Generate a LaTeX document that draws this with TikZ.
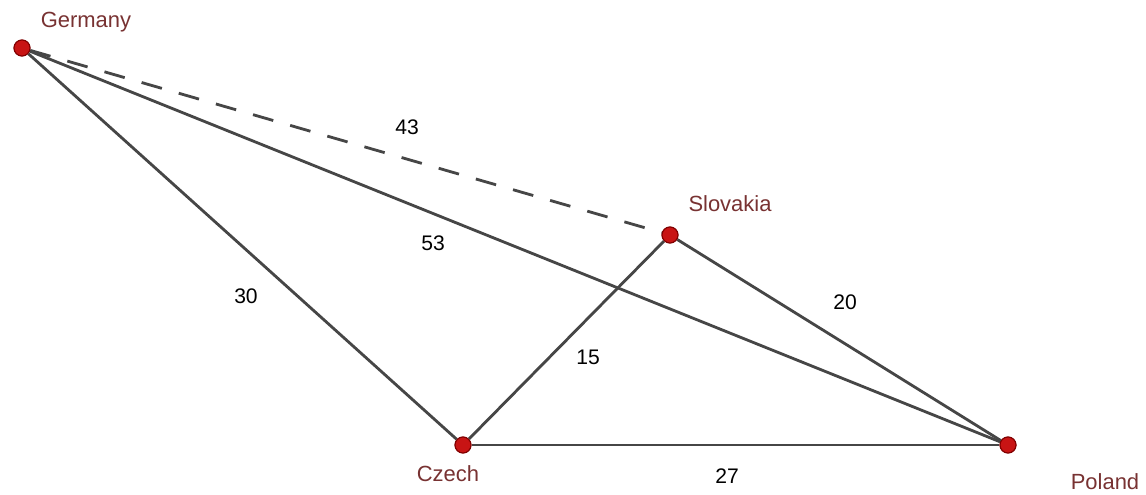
\documentclass[tikz,border=0pt]{standalone}
\usepackage{fontspec}
\setmainfont{Liberation Sans}
\usepackage{tikz}

\definecolor{dotred}{RGB}{200,20,20}
\definecolor{namered}{RGB}{120,50,50}
\definecolor{roadgray}{RGB}{70,70,70}

\begin{document}
\begin{tikzpicture}[x=0.02cm,y=-0.02cm,
    city/.style={circle,fill=dotred,draw=red!50!black,line width=0.6pt,inner sep=0pt,minimum size=0.32cm},
    cityname/.style={text=namered,font=\fontsize{12.5}{14}\selectfont},
    road/.style={draw=roadgray,line width=1.6pt},
    weight/.style={font=\fontsize{12}{14}\selectfont}]
  % --- frame ---
  \useasboundingbox (0,0) rectangle (1146,494);

  % --- countries ---
  \node[city] (ger) at (22,48) {};
  \node[city] (svk) at (670,235) {};
  \node[city] (cze) at (463,445) {};
  \node[city] (pol) at (1008,445) {};

  % --- country names ---
  \node[cityname] (gername) at (86,22) {Germany};
  \node[cityname] (svkname) at (730,204) {Slovakia};
  \node[cityname] (czename) at (448,474) {Czech};
  \node[cityname] (polname) at (1105,482) {Poland};

  % --- roads ---
  \draw[road,dash pattern=on 12pt off 10pt] (ger) -- (svk);
  \foreach \a/\b in {ger/pol,ger/cze,cze/svk,svk/pol,cze/pol} {
    \draw[road] (\a) -- (\b);
  }
  \foreach \c in {ger,svk,cze,pol} {
    \node[city] at (\c) {};
  }

  % --- distances ---
  \node[weight] (w43) at (407,127) {43};
  \node[weight] (w53) at (433,243) {53};
  \node[weight] (w30) at (246,296) {30};
  \node[weight] (w20) at (845,302) {20};
  \node[weight] (w15) at (588,357) {15};
  \node[weight] (w27) at (727,476) {27};
\end{tikzpicture}
\end{document}
